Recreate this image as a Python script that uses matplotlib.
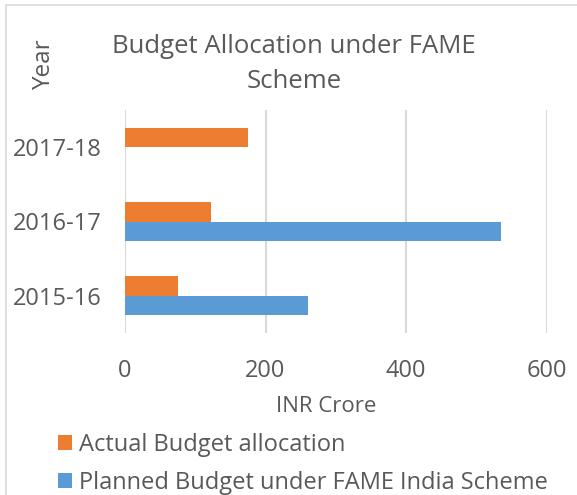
import numpy as np
import matplotlib.pyplot as plt
from matplotlib.patches import Rectangle

plt.rcParams['font.family'] = ['Open Sans', 'DejaVu Sans']

years = ["2015-16", "2016-17", "2017-18"]
actual = [75, 122, 175]
planned = [260, 535, 0]
xticks = [0, 200, 400, 600]

grey = "#595959"
orange = "#ED7D31"
blue = "#5B9BD5"

fig = plt.figure(figsize=(5.77, 4.95), dpi=100)
ax = fig.add_axes([125 / 577, 1 - 333 / 495, 421.5 / 577, 223 / 495])

y = np.arange(len(years))
h = 0.262
ax.barh(y + h / 2, actual, height=h, color=orange, label="Actual Budget allocation", zorder=3)
ax.barh(y - h / 2, planned, height=h, color=blue, label="Planned Budget under FAME India Scheme", zorder=3)

ax.set_xlim(0, 600)
ax.set_ylim(-0.5, 2.5)
ax.set_xticks(xticks)
ax.set_yticks(y)
ax.set_yticklabels(years)
ax.grid(axis="x", color="#d9d9d9", linewidth=1.5, zorder=0)
for s in ax.spines.values():
    s.set_visible(False)
ax.tick_params(axis="x", length=0, pad=19, labelsize=17, labelcolor=grey)
ax.tick_params(axis="y", length=0, pad=17, labelsize=17, labelcolor=grey)

# title in two lines, placed by baseline
fig.text(294 / 577, 1 - 53 / 495, "Budget Allocation under FAME", ha="center", va="baseline",
         fontsize=18.5, color=grey)
fig.text(294 / 577, 1 - 88 / 495, "Scheme", ha="center", va="baseline", fontsize=18.5, color=grey)
fig.text(44 / 577, 1 - 65 / 495, "Year", rotation=90, ha="center", va="center", fontsize=17.5, color=grey)
fig.text(326 / 577, 1 - 407 / 495, "INR Crore", ha="center", va="center", fontsize=16, color=grey)

handles, labels = ax.get_legend_handles_labels()
fig.legend(handles, labels, loc="upper left", bbox_to_anchor=(58 / 577, 1 - 433 / 495), frameon=False,
           fontsize=17, labelcolor=grey, handlelength=0.6, handleheight=0.6, handletextpad=0.3,
           labelspacing=0.6, borderaxespad=0, borderpad=0)

fig.add_artist(Rectangle((6 / 577, -0.1), 1.2, 1 - 5 / 495 + 0.1, transform=fig.transFigure,
                         fill=False, edgecolor="#d9d9d9", linewidth=1.2))

fig.savefig("out.png", dpi=100)
